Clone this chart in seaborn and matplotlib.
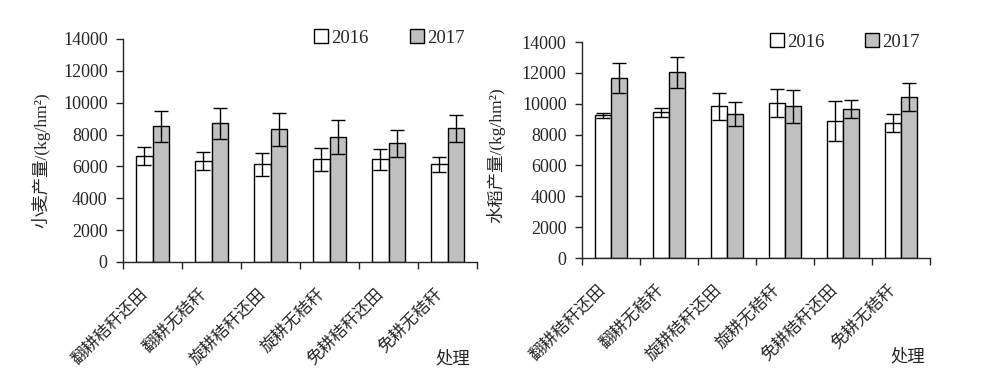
import numpy as np
import pandas as pd
import matplotlib
matplotlib.use("Agg")
import matplotlib.pyplot as plt
import matplotlib.transforms as mtransforms
import seaborn as sns
from matplotlib.ticker import FixedLocator

# Data
treatments = ["翻耕秸秆还田", "翻耕无秸秆", "旋耕秸秆还田", "旋耕无秸秆", "免耕秸秆还田", "免耕无秸秆"]
years = ["2016", "2017"]

wheat_2016 = [6640, 6330, 6140, 6460, 6460, 6140]
wheat_2016_err = [560, 565, 720, 720, 660, 470]
wheat_2017 = [8510, 8700, 8340, 7820, 7440, 8380]
wheat_2017_err = [975, 975, 1040, 1070, 850, 850]

rice_2016 = [9250, 9450, 9840, 10030, 8860, 8730]
rice_2016_err = [175, 290, 870, 910, 1300, 585]
rice_2017 = [11660, 12050, 9320, 9840, 9640, 10420]
rice_2017_err = [975, 1010, 790, 1070, 585, 910]

sns.set_style("ticks")
plt.rcParams['font.family'] = ['Liberation Serif', 'Noto Sans CJK SC']
plt.rcParams['axes.linewidth'] = 1.0

fig = plt.figure(figsize=(9.88, 3.73), dpi=100)
ax1 = fig.add_axes([0.1245, 0.2976, 0.3583, 0.598])
ax2 = fig.add_axes([0.589, 0.3083, 0.3522, 0.579])


def draw(ax, v16, e16, v17, e17, ylabel, ylab_xy, leg_xy):
    df = pd.DataFrame({
        "处理": treatments * 2,
        "year": [years[0]] * 6 + [years[1]] * 6,
        "yield": v16 + v17,
    })
    sns.barplot(data=df, x="处理", y="yield", hue="year", order=treatments,
                hue_order=years, palette=["white", "#c0c0c0"], width=0.56,
                errorbar=None, edgecolor="black", linewidth=1.0, ax=ax)
    # error bars on top of each bar
    errs = e16 + e17
    vals = v16 + v17
    for p, v, e in zip(ax.patches[:12], vals, errs):
        cx = p.get_x() + p.get_width() / 2
        ax.errorbar(cx, v, yerr=e, fmt="none", ecolor="black",
                    elinewidth=1.0, capsize=5, capthick=1.0)

    ax.set_ylim(0, 14000)
    ax.set_yticks(np.arange(0, 14001, 2000))
    ax.set_xlim(-0.5, 5.5)
    ax.xaxis.set_minor_locator(FixedLocator(np.arange(-0.5, 5.6, 1)))
    ax.tick_params(axis="x", which="major", length=0, pad=17)
    ax.tick_params(axis="x", which="minor", length=5, width=1.0, direction="out")
    ax.tick_params(axis="y", length=5, width=1.0, direction="out", pad=6,
                   labelsize=13)
    shift = mtransforms.ScaledTranslation(-13 / 100, 0, fig.dpi_scale_trans)
    for lab in ax.get_xticklabels():
        lab.set_rotation(45)
        lab.set_ha("right")
        lab.set_va("top")
        lab.set_rotation_mode("anchor")
        lab.set_fontsize(12)
        lab.set_transform(lab.get_transform() + shift)
    sns.despine(ax=ax)
    ax.set_xlabel("")
    ax.set_ylabel(ylabel, fontsize=12.5)
    ax.yaxis.set_label_coords(*ylab_xy)

    h, l = ax.get_legend_handles_labels()
    ax.legend(h, l, ncol=2, frameon=False, loc="center",
              bbox_to_anchor=leg_xy, bbox_transform=fig.transFigure,
              fontsize=13.5, handlelength=0.75, handleheight=0.75,
              handletextpad=0.15, columnspacing=2.2, borderaxespad=0)


draw(ax1, wheat_2016, wheat_2016_err, wheat_2017, wheat_2017_err,
     "小麦产量/(kg/hm²)", (-0.206, 0.457), (0.394, 0.898))
draw(ax2, rice_2016, rice_2016_err, rice_2017, rice_2017_err,
     "水稻产量/(kg/hm²)", (-0.221, 0.477), (0.855, 0.887))

fig.text(453 / 988, 1 - 359 / 373, "处理", ha="center", va="center", fontsize=12.5)
fig.text(908 / 988, 1 - 357 / 373, "处理", ha="center", va="center", fontsize=12.5)

fig.savefig("out.png", dpi=100)
